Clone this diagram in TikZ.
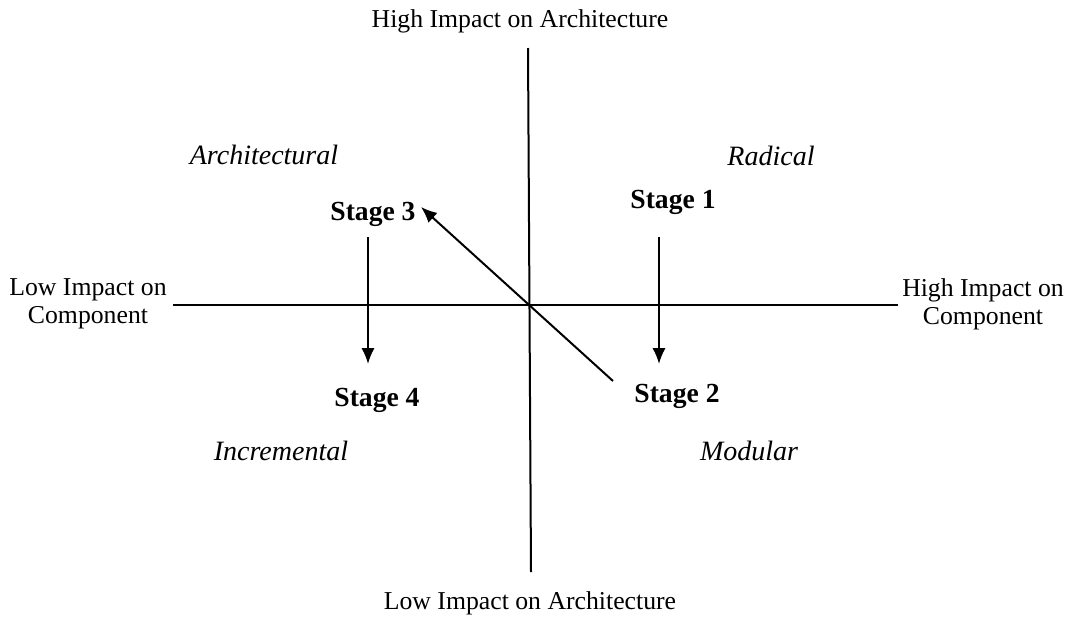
\documentclass[tikz,border=0pt]{standalone}
\usepackage{fontspec}
\setmainfont{Liberation Serif}
\usetikzlibrary{arrows.meta}
\begin{document}
\begin{tikzpicture}[x=0.75pt,y=-0.75pt,
  lbl/.style={font=\fontsize{19.3}{21}\selectfont, inner sep=0pt, align=center},
  quad/.style={font=\fontsize{21}{23}\selectfont\itshape, inner sep=0pt},
  stg/.style={font=\fontsize{20.7}{23}\selectfont\bfseries, inner sep=0pt},
  axis/.style={line width=1.5pt},
  arr/.style={line width=1.5pt, -{Latex[length=12pt,width=10pt]}}]
\useasboundingbox (0,0) rectangle (1079,618);
% axes
\coordinate (vt) at (528,48);
\coordinate (vb) at (531,572);
\coordinate (hl) at (173,305);
\coordinate (hr) at (898,305);
\draw[axis] (vt) -- (vb);
\draw[axis] (hl) -- (hr);
% axis labels
\node[lbl] (ha) at (520,21) {High Impact on Architecture};
\node[lbl] (la) at (530,603) {Low Impact on Architecture};
\node[lbl] (lc) at (88,304) {Low Impact on\\Component};
\node[lbl] (hc) at (983,304) {High Impact on\\Component};
% quadrant labels
\node[quad] (qa) at (264,155) {Architectural};
\node[quad] (qr) at (771,156) {Radical};
\node[quad] (qi) at (281,451) {Incremental};
\node[quad] (qm) at (749,451) {Modular};
% stages
\node[stg] (s1) at (673,202) {Stage 1};
\node[stg] (s2) at (677,396) {Stage 2};
\node[stg] (s3) at (373,214) {Stage 3};
\node[stg] (s4) at (377,400) {Stage 4};
% arrows
\coordinate (a1s) at (659,237);
\coordinate (a1e) at (659,364);
\coordinate (a3s) at (368,237);
\coordinate (a3e) at (368,364);
\coordinate (a2s) at (613,381);
\coordinate (a2e) at (421,207);
\draw[arr] (a1s) -- (a1e);
\draw[arr] (a3s) -- (a3e);
\draw[arr] (a2s) -- (a2e);
\end{tikzpicture}
\end{document}
